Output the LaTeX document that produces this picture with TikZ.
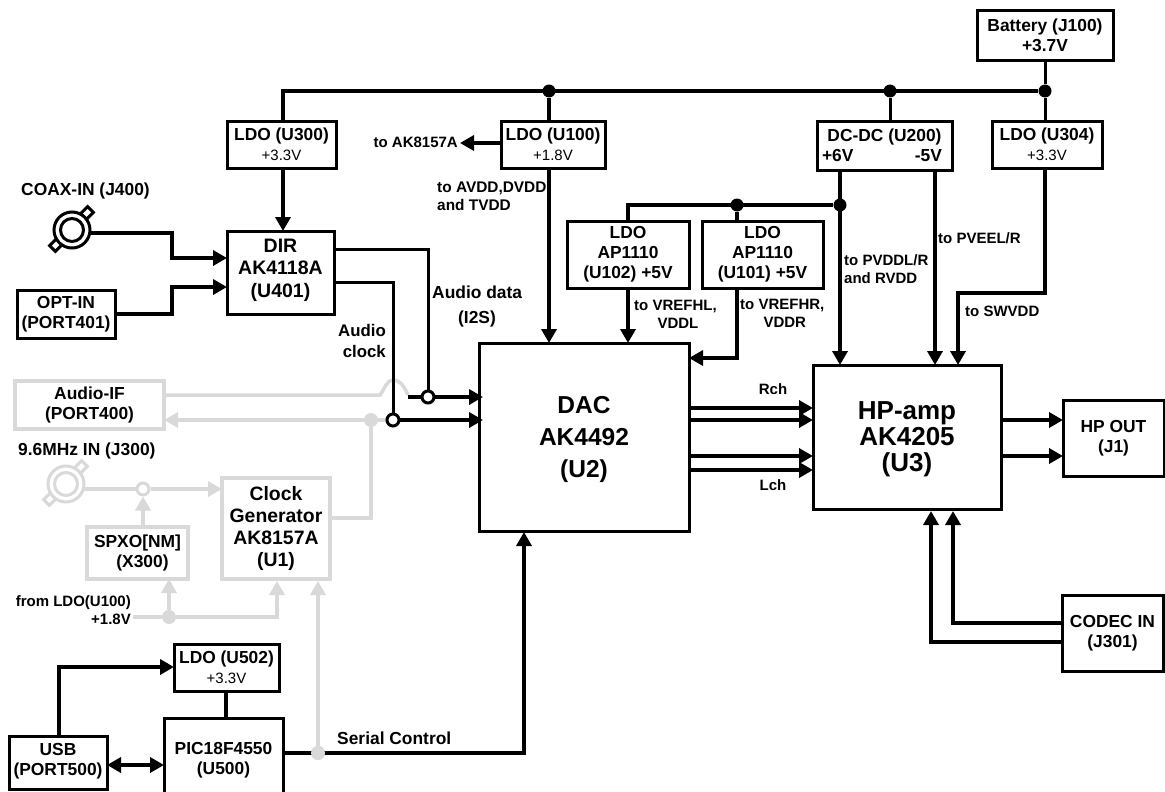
\documentclass[tikz,border=0pt]{standalone}
\usepackage{fontspec}
\setmainfont{Liberation Sans}
\usetikzlibrary{arrows.meta,calc}
\definecolor{lgray}{HTML}{D9D9D9}
\tikzset{
  x=1pt,y=-1pt,
  blk/.style={font=\bfseries\fontsize{17.4}{20}\selectfont},
  boxnode/.style={blk,draw=black,line width=3pt,align=center,inner sep=0pt,outer sep=0pt,fill=white},
  grayboxnode/.style={boxnode,draw=lgray,line width=3.5pt},
  lab/.style={font=\bfseries\fontsize{15}{18}\selectfont,align=left,inner sep=0pt},
  biglab/.style={blk,inner sep=0pt},
  wire/.style={draw=black,line width=4pt,line join=miter},
  thinwire/.style={wire,line width=3pt},
  arr/.style={wire,-{Triangle[length=14pt,width=15pt]}},
  graywire/.style={draw=lgray,line width=3.5pt},
  grayarr/.style={graywire,-{Triangle[length=14pt,width=15pt,fill=lgray]}},
  dot/.style={circle,fill=black,inner sep=0pt,minimum size=13pt},
  graydot/.style={circle,fill=lgray,inner sep=0pt,minimum size=14pt},
  ring/.style={circle,draw=black,fill=white,line width=3pt,inner sep=0pt,minimum size=12pt},
  grayring/.style={ring,draw=lgray},
  tab/.style={draw=#1,fill=white,line width=3pt,minimum width=10pt,minimum height=8pt,inner sep=0pt},
  coaxo/.style={circle,draw=#1,fill=white,line width=3pt,inner sep=0pt,minimum size=36pt},
  coaxi/.style={circle,draw=#1,fill=white,line width=3pt,inner sep=0pt,minimum size=23pt},
  dirfont/.style={font=\bfseries\fontsize{19.5}{22.5}\selectfont},
  dacfont/.style={font=\bfseries\fontsize{24.5}{32}\selectfont},
  hpfont/.style={font=\bfseries\fontsize{26}{26}\selectfont},
  clkfont/.style={font=\bfseries\fontsize{19.4}{22}\selectfont},
}
\newcommand\bxnode[7][boxnode]{%
  \node[#1,minimum width=#5pt-#3pt,minimum height=#6pt-#4pt] (#2) at ({(#3+#5)/2},{(#4+#6)/2}) {#7};}
\newcommand\volt[1]{{\mdseries\fontsize{15}{18}\selectfont #1}}
\newcommand\coaxconn[4]{%
  \node[tab=#4,rotate=45] (#1t1) at ($(#2,#3)+(15,-17)$) {};
  \node[tab=#4,rotate=45] (#1t2) at ($(#2,#3)+(-16,15)$) {};
  \node[coaxo=#4] (#1) at (#2,#3) {};
  \node[coaxi=#4] (#1i) at (#2,#3) {};}
\begin{document}
\begin{tikzpicture}
\clip (0,0) rectangle (1165,792);
\fill[white] (0,0) rectangle (1165,792);

\coaxconn{jfour}{72}{230}{black}
\coaxconn{jthree}{66}{484}{lgray}
\coordinate (jfourout) at (90,233);
\coordinate (jthreeout) at (83,489);

\bxnode{batt}{977}{11}{1113}{61}{Battery (J100)\\+3.7V\rule[-2pt]{0pt}{2pt}}
\bxnode{uthree}{227}{121}{336}{168}{LDO (U300)\\\volt{+3.3V}}
\bxnode{uone}{501}{121}{605}{168}{LDO (U100)\\\volt{+1.8V}}
\bxnode{dcdc}{817}{121}{952}{170}{DC-DC (U200)\\\hspace*{-5pt}\makebox[120pt]{+6V\hfill-5V}}
\bxnode{ufour}{992}{121}{1102}{168}{LDO (U304)\\\volt{+3.3V}}
\bxnode{ldoa}{567}{221}{689}{288}{LDO\\AP1110\\(U102) +5V}
\bxnode{ldob}{702}{221}{823}{288}{LDO\\AP1110\\(U101) +5V}
\bxnode[boxnode,dirfont]{dir}{227}{231}{334}{314}{DIR\\AK4118A\\(U401)\rule[-9pt]{0pt}{9pt}}
\bxnode{opt}{17}{290}{115}{338}{OPT-IN\\(PORT401)}
\bxnode[boxnode,dacfont]{dac}{479}{343}{689}{531}{\rule{0pt}{22pt}DAC\\AK4492\\(U2)}
\bxnode[boxnode,hpfont]{hp}{813}{365}{1001}{509}{\rule{0pt}{22pt}HP-amp\\AK4205\\(U3)}
\bxnode{hpout}{1063}{400}{1164}{476}{HP OUT\\(J1)}
\bxnode{codec}{1062}{595}{1163}{671}{CODEC IN\\(J301)}
\bxnode[grayboxnode]{aif}{15}{381}{164}{429}{Audio-IF\\(PORT400)}
\bxnode[grayboxnode,clkfont]{clk}{222}{478}{330}{579}{Clock\\Generator\\AK8157A\\(U1)}
\bxnode[grayboxnode]{spxo}{87}{527}{188}{579}{SPXO[NM]\\\hspace*{10pt}(X300)}
\bxnode{ufive}{174}{644}{279}{691}{LDO (U502)\\\volt{+3.3V}}
\bxnode{pic}{164}{718}{283}{802}{PIC18F4550\\(U500)}
\bxnode{usb}{9}{736}{107}{789}{USB\\(PORT500)\rule[-6pt]{0pt}{6pt}}

\node[dot] (d1) at (549,91) {};
\node[dot] (d2) at (890,91) {};
\node[dot] (d3) at (1045,91) {};
\node[dot] (d4) at (737,205) {};
\node[dot] (d5) at (840,205) {};
\coordinate (busl) at (283,91);
\coordinate (subl) at (628,205);
\coordinate (dcplus) at (840,170);
\coordinate (dcminus) at (935,170);
\coordinate (r2g) at (393,420);
\node[graydot] (g1) at (371,420) {};
\node[graydot] (g2) at (169,617) {};
\node[graydot] (g3) at (318,753) {};
\coordinate (vin) at (133,617);
\coordinate (humpa) at (380,395);
\coordinate (humpb) at (408,395);
\node[grayring] (g4) at (143,489) {};

\draw[graywire] (aif.east |- humpa) -- (humpa) .. controls (385,388) and (387,380) .. (393,380) .. controls (400,380) and (404,386) .. (humpb);
\draw[grayarr] (g1) -- (aif.east |- g1);
\draw[graywire] (r2g) -- (g1) -- (371,518) -- (clk.east |- 0,518);
\draw[graywire] (jthreeout) -- (g4);
\draw[grayarr] (g4) -- (clk.west |- g4);
\draw[grayarr] (spxo.north -| g4) -- (g4);
\draw[graywire] (vin) -- (g2);
\draw[grayarr] (g2) -- (277,617) -- (277,581);
\draw[grayarr] (g2) -- (g2 |- spxo.south);

\draw[wire] (busl |- uthree.north) -- (busl) -- (d3);
\draw[thinwire] (batt.south -| d3) -- (d3) -- (d3 |- ufour.north);
\draw[wire] (d1) -- (d1 |- uone.north);
\draw[thinwire] (d2) -- (d2 |- dcdc.north);
\draw[arr] (busl |- uthree.south) -- (busl |- dir.north);
\draw[arr] (uone.west |- 0,143) -- (460,143);
\draw[arr] (d1 |- uone.south) -- (d1 |- dac.north);
\draw[wire] (subl |- ldoa.north) -- (subl) -- (d5);
\draw[wire] (d4) -- (d4 |- ldob.north);
\draw[arr] (dcplus) -- (dcplus |- hp.north);
\draw[arr] (dcminus) -- (dcminus |- hp.north);
\draw[arr] (d3 |- ufour.south) -- (1045,293) -- (958,293) -- (958,365);
\draw[arr] (subl |- ldoa.south) -- (subl |- dac.north);
\draw[arr] (d4 |- ldob.south) -- (737,358) -- (dac.east |- 0,358);
\draw[arr] (jfourout) -- (172,233) -- (172,258) -- (dir.west |- 0,258);
\draw[arr] (opt.east |- 0,314) -- (172,314) -- (172,287) -- (dir.west |- 0,287);
\coordinate (hb) at (408,397);
\draw[thinwire] (dir.east |- 0,249) -- (428,249) -- (428,397);
\draw[thinwire] (dir.east |- 0,282) -- (393,282) -- (393,420);
\draw[arr,line width=3.5pt] (hb) -- (483,397);
\draw[arr,line width=3.5pt] (393,420) -- (483,420);
\node[ring] (r1) at (428,397) {};
\node[ring] (r2) at (393,420) {};
\draw[arr] (dac.east |- 0,408) -- (813,408);
\draw[arr] (dac.east |- 0,420) -- (813,420);
\draw[arr] (dac.east |- 0,456) -- (813,456);
\draw[arr] (dac.east |- 0,470) -- (813,470);
\draw[arr] (hp.east |- 0,420) -- (hpout.west |- 0,420);
\draw[arr] (hp.east |- 0,456) -- (hpout.west |- 0,456);
\draw[arr] (codec.west |- 0,623) -- (953,623) -- (953,511);
\draw[arr] (codec.west |- 0,642) -- (931,642) -- (931,511);
\draw[arr] (59,736) -- (59,667) -- (ufive.west |- 0,667);
\draw[wire] (226,691) -- (226,718);
\draw[wire,{Triangle[length=14pt,width=15pt]}-{Triangle[length=14pt,width=15pt]}] (usb.east |- 0,765) -- (pic.west |- 0,765);
\draw[arr] (pic.east |- g3) -- (524,753) -- (524,532);
\node[graydot] at (g3) {};
\draw[grayarr] (g3) -- (318,581);

\node[biglab,anchor=west] (t1) at (21,191) {COAX-IN (J400)};
\node[biglab,anchor=west] (t2) at (18,451) {9.6MHz IN (J300)};
\node[biglab,anchor=west] (t3) at (432,292) {Audio data};
\node[biglab] (t4) at (477,319) {(I2S)};
\node[biglab,anchor=east,align=right,font=\bfseries\fontsize{16.8}{21}\selectfont] (t5) at (386,341) {Audio\\clock};
\node[lab,anchor=east] (t6) at (458,142) {to AK8157A};
\node[lab,anchor=west,font=\bfseries\fontsize{15.4}{18}\selectfont] (t7) at (437,196) {to AVDD,DVDD\\and TVDD};
\node[lab,anchor=west,align=center] (t8) at (634,314) {to VREFHL,\\\hspace*{5pt}VDDL};
\node[lab,anchor=west,align=center] (t9) at (740,313) {to VREFHR,\\\hspace*{5pt}VDDR};
\node[lab,anchor=west] (t10) at (844,269) {to PVDDL/R\\and RVDD};
\node[lab,anchor=west] (t11) at (938,238) {to PVEEL/R};
\node[lab,anchor=west] (t12) at (965,311) {to SWVDD};
\node[lab] (t13) at (773,389) {Rch};
\node[lab] (t14) at (773,485) {Lch};
\node[lab,anchor=east,align=right] (t15) at (131,610) {from LDO(U100)\\+1.8V};
\node[biglab,anchor=west] (t16) at (337,738) {Serial Control};
\end{tikzpicture}
\end{document}
